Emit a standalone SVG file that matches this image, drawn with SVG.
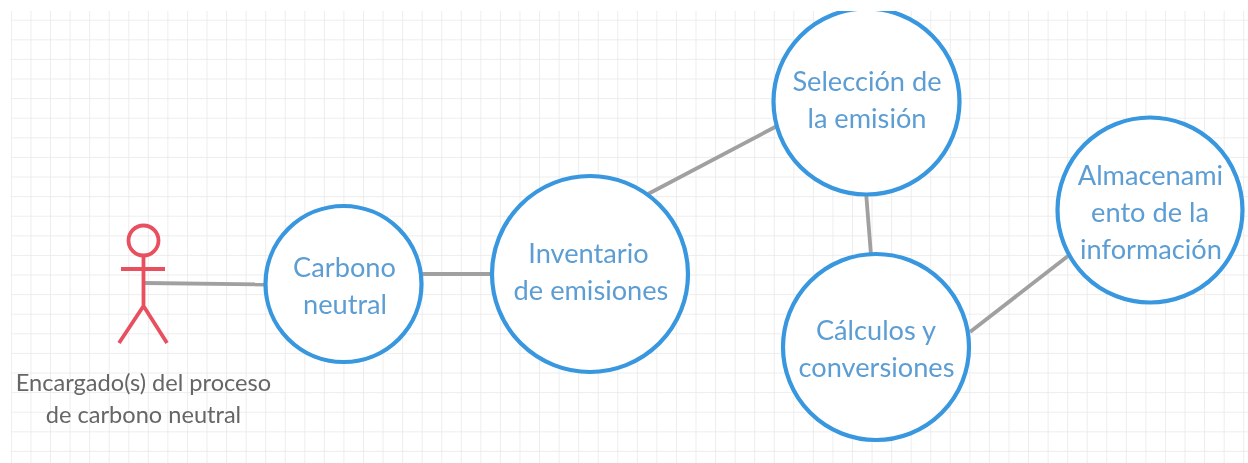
<svg xmlns="http://www.w3.org/2000/svg" width="1248" height="463" viewBox="0 0 1248 463">
<style>
.grid{stroke:#e8e8e8;stroke-width:1.5;fill:none}
.conn{stroke:#a0a0a0;stroke-width:3.8;fill:none}
.node{fill:#fff;stroke:#3797de;stroke-width:4.200}
.lab{font-family:Lato,"Liberation Sans",sans-serif;font-size:27.200px;fill:#5c9dd3;text-anchor:middle}
.actor{stroke:#e8505f;stroke-width:3.800;fill:none}
.cap{font-family:Lato,"Liberation Sans",sans-serif;font-size:23.600px;fill:#666;text-anchor:middle}
</style>
<defs>
<pattern id="g" width="19.56" height="19.6" patternUnits="userSpaceOnUse" x="11.9" y="1.1">
<path class="grid" d="M19.56 0V19.6M0 19.6H19.56"/>
</pattern>
<clipPath id="top"><rect x="0" y="11" width="1248" height="452"/></clipPath>
<filter id="soft" filterUnits="userSpaceOnUse" x="0" y="0" width="1248" height="463"><feGaussianBlur stdDeviation="0.45"/></filter>
</defs>
<g filter="url(#soft)">
<rect x="11" y="11" width="1237" height="452" fill="url(#g)"/>
<g id="connectors">
<path class="conn" d="M144 283L265 284.500"/>
<path class="conn" d="M422 274H492"/>
<path class="conn" d="M648 194L777 126"/>
<path class="conn" d="M866 192L871 255"/>
<path class="conn" d="M970 332L1068 256"/>
</g>
<g id="actor">
<circle class="actor" cx="143.500" cy="240.500" r="15"/>
<path class="actor" d="M143.500 256V306M121 269H165M143.500 306L119 343M143.500 306L167 343"/>
<text class="cap" x="143.500" y="390.500">Encargado(s) del proceso</text>
<text class="cap" x="143.500" y="422.500">de carbono neutral</text>
</g>
<g id="carbono"><circle class="node" cx="343.500" cy="284" r="78"/>
<text class="lab" x="344.500" y="277">Carbono</text><text class="lab" x="345" y="314">neutral</text></g>
<g id="inventario"><circle class="node" cx="590" cy="274" r="98"/>
<text class="lab" x="588.500" y="263">Inventario</text><text class="lab" x="591" y="300">de emisiones</text></g>
<g id="seleccion"><circle class="node" cx="866.500" cy="101.500" r="93" clip-path="url(#top)"/>
<text class="lab" x="867" y="91">Selección de</text><text class="lab" x="867" y="128">la emisión</text></g>
<g id="calculos"><circle class="node" cx="876" cy="347" r="93"/>
<text class="lab" x="876" y="340">Cálculos y</text><text class="lab" x="876.500" y="377">conversiones</text></g>
<g id="almacenamiento"><circle class="node" cx="1150" cy="210" r="92.500"/>
<text class="lab" x="1150.500" y="185">Almacenami</text><text class="lab" x="1150" y="222">ento de la</text><text class="lab" x="1151" y="259">información</text></g>
</g>
</svg>
